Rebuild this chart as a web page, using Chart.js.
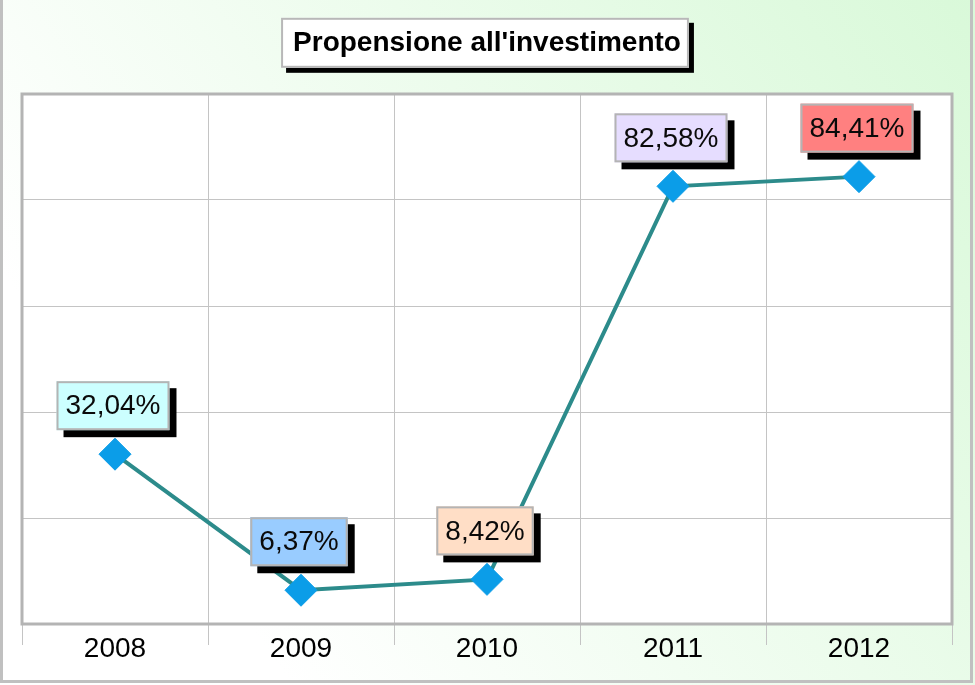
<!DOCTYPE html>
<html>
<head>
<meta charset="utf-8">
<title>Propensione all'investimento</title>
<script src="https://cdn.jsdelivr.net/npm/chart.js@4.4.1/dist/chart.umd.min.js"></script>
<style>
    html, body { margin: 0; padding: 0; background: #fff; }
    #wrap { width: 975px; height: 685px; position: relative; }
</style>
</head>
<body>
<div id="wrap"><canvas id="chart"></canvas></div>
<script>
    const years = ['2008', '2009', '2010', '2011', '2012'];
    const propensione = [32.04, 6.37, 8.42, 82.58, 84.41];
    const labelColors = ['#CCFFFF', '#99CCFF', '#FFDEC6', '#E6DDFF', '#FF8080'];
    const yMin = 0, yMax = 100, yStep = 20;

    const FONT = '"Liberation Sans", Arial, sans-serif';

    function fmt(v) {
        return v.toFixed(2).replace('.', ',') + '%';
    }

    // background, outer frame and the title box
    const frame = {
        id: 'frame',
        beforeDraw(chart) {
            const { ctx, width, height, chartArea: a } = chart;
            ctx.save();
            const g = ctx.createLinearGradient(0, height, width, 0);
            g.addColorStop(0, '#ffffff');
            g.addColorStop(0.2, '#ffffff');
            g.addColorStop(1, '#d9f9d9');
            ctx.fillStyle = g;
            ctx.fillRect(0, 0, width, height);

            ctx.fillStyle = '#ffffff';
            ctx.fillRect(a.left, a.top, a.right - a.left, a.bottom - a.top);

            ctx.strokeStyle = '#c0c0c0';
            ctx.lineWidth = 3;
            ctx.beginPath();
            ctx.moveTo(1.5, 0);
            ctx.lineTo(1.5, height - 3.5);
            ctx.lineTo(width - 3.5, height - 3.5);
            ctx.lineTo(width - 3.5, 0);
            ctx.stroke();

            // box behind the title text
            const o = chart.options.plugins.title;
            ctx.font = 'bold ' + o.font.size + 'px ' + FONT;
            const tw = ctx.measureText(o.text).width;
            const bw = tw + 20, bh = 50;
            const cx = (a.left + a.right) / 2 - 2;
            const cy = o.padding.top + o.font.size * 1.2 / 2;
            const bx = cx - bw / 2, by = cy - bh / 2;
            ctx.fillStyle = '#000';
            ctx.fillRect(bx + 5, by + 5, bw, bh);
            ctx.fillStyle = '#fff';
            ctx.fillRect(bx, by, bw, bh);
            ctx.strokeStyle = '#b8b8b8';
            ctx.lineWidth = 2;
            ctx.strokeRect(bx + 1, by + 1, bw - 2, bh - 2);
            ctx.restore();
        },
        beforeDatasetsDraw(chart) {
            const { ctx, chartArea: a } = chart;
            ctx.save();
            ctx.strokeStyle = '#b4b4b4';
            ctx.lineWidth = 3;
            ctx.strokeRect(a.left, a.top, a.right - a.left, a.bottom - a.top);
            ctx.restore();
        },
        afterDatasetsDraw(chart) {
            const ctx = chart.ctx;
            const meta = chart.getDatasetMeta(0);
            ctx.save();
            ctx.font = '28px ' + FONT;
            meta.data.forEach((pt, i) => {
                const txt = fmt(propensione[i]);
                const w = ctx.measureText(txt).width + 18;
                const h = 49;
                const cx = pt.x - 2;
                const x = cx - w / 2, y = pt.y - 24 - h;
                ctx.fillStyle = '#000';
                ctx.fillRect(x + 7, y + 7, w, h);
                ctx.fillStyle = labelColors[i];
                ctx.fillRect(x, y, w, h);
                ctx.strokeStyle = '#b4b4b4';
                ctx.lineWidth = 2;
                ctx.strokeRect(x + 1, y + 1, w - 2, h - 2);
                ctx.fillStyle = '#0a0a0a';
                ctx.textAlign = 'center';
                ctx.textBaseline = 'middle';
                ctx.fillText(txt, cx, y + h / 2 + 1);
            });
            ctx.restore();
        }
    };

    new Chart(document.getElementById('chart'), {
        type: 'line',
        data: {
            labels: years,
            datasets: [{
                label: "Propensione all'investimento",
                data: propensione,
                borderColor: '#2C8B8B',
                borderWidth: 4,
                pointStyle: 'rectRot',
                pointRadius: 16,
                pointBackgroundColor: '#0B9DE8',
                pointBorderColor: '#0B9DE8',
                pointBorderWidth: 1,
                tension: 0
            }]
        },
        options: {
            responsive: true,
            maintainAspectRatio: false,
            animation: false,
            layout: { padding: { left: 22, right: 23, top: 0, bottom: 0 } },
            plugins: {
                legend: { display: false },
                tooltip: { enabled: false },
                title: {
                    display: true,
                    text: "Propensione all'investimento",
                    color: '#000',
                    font: { family: FONT, size: 28, weight: 'bold' },
                    padding: { top: 26, bottom: 34.4 }
                }
            },
            scales: {
                x: {
                    offset: true,
                    grid: { offset: true, color: '#c4c4c4', lineWidth: 1, tickLength: 21 },
                    border: { display: false },
                    ticks: { color: '#000', font: { family: FONT, size: 28 }, padding: -13 },
                    afterFit(s) { s.height = 61; }
                },
                y: {
                    min: yMin,
                    max: yMax,
                    ticks: { stepSize: yStep, display: false },
                    grid: { color: '#c4c4c4', lineWidth: 1, drawTicks: false },
                    border: { display: false },
                    afterFit(s) { s.width = 0; }
                }
            }
        },
        plugins: [frame]
    });
</script>
</body>
</html>
